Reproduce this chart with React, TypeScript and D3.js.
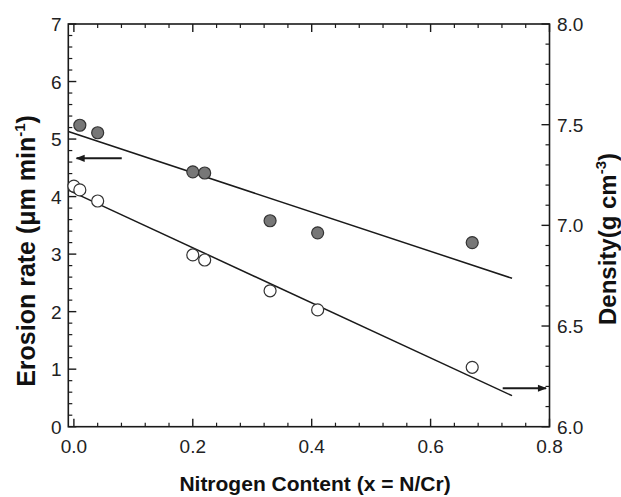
import React from "react";
import * as d3 from "d3";

// nitrogen content x = N/Cr
const erosionX = [0.01, 0.04, 0.2, 0.22, 0.33, 0.41, 0.67];
const erosionRate = [5.24, 5.11, 4.43, 4.41, 3.58, 3.37, 3.2];

const densityX = [0.0, 0.01, 0.04, 0.2, 0.22, 0.33, 0.41, 0.67];
const density = [7.195, 7.176, 7.121, 6.853, 6.828, 6.675, 6.58, 6.295];

// linear fits (start / end)
const fitX = [-0.0094, 0.737];
const erosionFit = [5.13, 2.58];
const densityFit = [7.175, 6.154];

const xTicks = [0, 0.2, 0.4, 0.6, 0.8];
const leftTicks = [0, 1, 2, 3, 4, 5, 6, 7];
const rightTicks = [6.0, 6.5, 7.0, 7.5, 8.0];

const W = 621;
const H = 497;
const m = { left: 68.3, right: 549.5, top: 24, bottom: 426.7 };

const x = d3.scaleLinear().domain([-0.0094, 0.8]).range([m.left, m.right]);
const yL = d3.scaleLinear().domain([0, 7]).range([m.bottom, m.top]);
const yR = d3.scaleLinear().domain([6, 8]).range([m.bottom, m.top]);

const font = "'Liberation Sans', Arial, Helvetica, sans-serif";
const ink = "#1a1a1a";

export default function App() {
  const minorX = d3.range(0, 0.8001, 0.04).filter((v) => Math.abs(v / 0.2 - Math.round(v / 0.2)) > 1e-6);
  const minorL = d3.range(0, 7.0001, 0.2).filter((v) => Math.abs(v - Math.round(v)) > 1e-6);
  const minorR = d3.range(6, 8.0001, 0.1).filter((v) => Math.abs(v * 2 - Math.round(v * 2)) > 1e-6);

  const line = d3.line<[number, number]>();
  const erosionLine = line(fitX.map((v, i) => [x(v), yL(erosionFit[i])]));
  const densityLine = line(fitX.map((v, i) => [x(v), yR(densityFit[i])]));

  const major = 8;
  const minor = 4;

  return (
    <svg
      width={W}
      height={H}
      style={{ position: "absolute", left: 0, top: 0, background: "#fff" }}
      fontFamily={font}
    >
      <defs>
        <marker id="head" viewBox="0 0 10 10" refX="9" refY="5" markerWidth="12" markerHeight="9" orient="auto" markerUnits="userSpaceOnUse">
          <path d="M0,1 L10,5 L0,9 z" fill={ink} />
        </marker>
      </defs>

      {/* frame */}
      <rect x={m.left} y={m.top} width={m.right - m.left} height={m.bottom - m.top} fill="none" stroke={ink} strokeWidth={1.6} />

      {/* x ticks bottom + top */}
      {xTicks.map((t) => (
        <g key={"xt" + t}>
          <line x1={x(t)} x2={x(t)} y1={m.bottom} y2={m.bottom - major} stroke={ink} strokeWidth={1.4} />
          <line x1={x(t)} x2={x(t)} y1={m.top} y2={m.top + major} stroke={ink} strokeWidth={1.4} />
          <text x={x(t)} y={452.5} textAnchor="middle" fontSize={19} fill="#222">
            {t.toFixed(1)}
          </text>
        </g>
      ))}
      {minorX.map((t) => (
        <g key={"xm" + t}>
          <line x1={x(t)} x2={x(t)} y1={m.bottom} y2={m.bottom - minor} stroke={ink} strokeWidth={1.2} />
          <line x1={x(t)} x2={x(t)} y1={m.top} y2={m.top + minor} stroke={ink} strokeWidth={1.2} />
        </g>
      ))}

      {/* left axis */}
      {leftTicks.map((t) => (
        <g key={"lt" + t}>
          <line x1={m.left} x2={m.left + major} y1={yL(t)} y2={yL(t)} stroke={ink} strokeWidth={1.4} />
          <text x={61.5} y={yL(t) + 7} textAnchor="end" fontSize={19} fill="#222">
            {t}
          </text>
        </g>
      ))}
      {minorL.map((t) => (
        <line key={"lm" + t} x1={m.left} x2={m.left + minor} y1={yL(t)} y2={yL(t)} stroke={ink} strokeWidth={1.2} />
      ))}

      {/* right axis */}
      {rightTicks.map((t) => (
        <g key={"rt" + t}>
          <line x1={m.right} x2={m.right - major} y1={yR(t)} y2={yR(t)} stroke={ink} strokeWidth={1.4} />
          <text x={557} y={yR(t) + 7} textAnchor="start" fontSize={19} fill="#222">
            {t.toFixed(1)}
          </text>
        </g>
      ))}
      {minorR.map((t) => (
        <line key={"rm" + t} x1={m.right} x2={m.right - minor} y1={yR(t)} y2={yR(t)} stroke={ink} strokeWidth={1.2} />
      ))}

      {/* fit lines */}
      <path d={erosionLine ?? ""} fill="none" stroke={ink} strokeWidth={1.5} />
      <path d={densityLine ?? ""} fill="none" stroke={ink} strokeWidth={1.5} />

      {/* points */}
      {erosionX.map((v, i) => (
        <circle key={"e" + i} cx={x(v)} cy={yL(erosionRate[i])} r={6} fill="#777" stroke="#333" strokeWidth={1.2} />
      ))}
      {densityX.map((v, i) => (
        <circle key={"d" + i} cx={x(v)} cy={yR(density[i])} r={6} fill="#fff" stroke="#333" strokeWidth={1.2} />
      ))}

      {/* arrows pointing at the matching axis */}
      <line x1={x(0.0805)} x2={x(0.0045)} y1={yL(4.665)} y2={yL(4.665)} stroke={ink} strokeWidth={2} markerEnd="url(#head)" />
      <line x1={x(0.7213)} x2={x(0.7942)} y1={yR(6.191)} y2={yR(6.191)} stroke={ink} strokeWidth={2} markerEnd="url(#head)" />

      {/* axis titles */}
      <text x={315} y={491} textAnchor="middle" fontSize={21} fontWeight="bold" fill="#111">
        Nitrogen Content (x = N/Cr)
      </text>
      <text transform="translate(35,251) rotate(-90)" textAnchor="middle" fontSize={25} fontWeight="bold" fill="#111">
        Erosion rate (μm min
        <tspan dy={-10} fontSize={15}>-1</tspan>
        <tspan dy={10}>)</tspan>
      </text>
      <text transform="translate(616,239) rotate(-90)" textAnchor="middle" fontSize={24} fontWeight="bold" fill="#111">
        Density(g cm
        <tspan dy={-10} fontSize={15}>-3</tspan>
        <tspan dy={10}>)</tspan>
      </text>
    </svg>
  );
}
